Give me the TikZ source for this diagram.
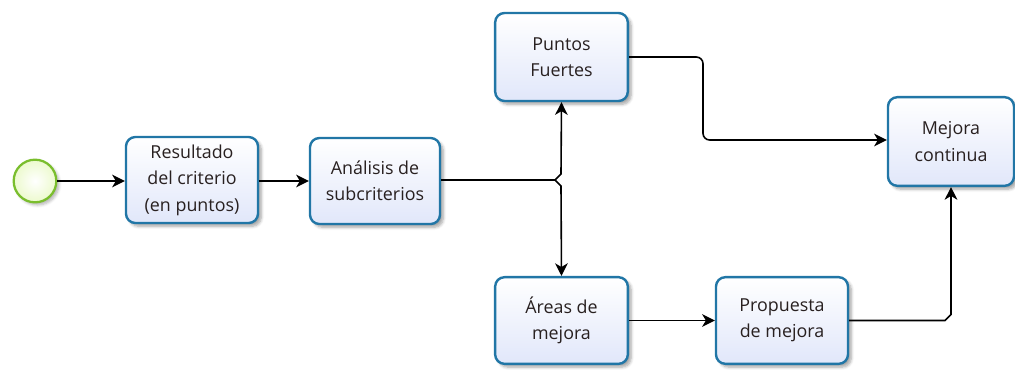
\documentclass[tikz,border=0pt]{standalone}
\usepackage{fontspec}
\setmainfont{Open Sans}
\usetikzlibrary{arrows.meta,shadows.blur}
\definecolor{boxborder}{RGB}{33,118,166}
\definecolor{boxfill}{RGB}{225,231,250}
\definecolor{startborder}{RGB}{122,190,45}
\definecolor{startfill}{RGB}{236,250,205}
\definecolor{txt}{RGB}{40,32,32}
\tikzset{
  task/.style={draw=boxborder, line width=1.8pt, rounded corners=7pt,
    top color=white, bottom color=boxfill, align=center, text=txt,
    font=\fontsize{13.4pt}{19.8pt}\selectfont, inner sep=0pt,
    blur shadow={shadow xshift=2.5pt, shadow yshift=-2.5pt, shadow blur steps=6, shadow opacity=35}},
  startev/.style={circle, draw=startborder, line width=1.7pt, inner sep=0pt,
    minimum size=32pt, inner color=white, outer color=startfill,
    blur shadow={shadow xshift=2pt, shadow yshift=-2pt, shadow blur steps=5, shadow opacity=30}},
  conn/.style={draw=black, line width=1.2pt, -{Stealth[length=9.5pt,width=9.5pt,inset=2.8pt]}},
}
\begin{document}
\begin{tikzpicture}[x=0.75pt,y=-0.75pt]
\useasboundingbox (0,0) rectangle (1015,369);
\node[startev] (s) at (35,181) {};
\node[task, minimum width=99pt, minimum height=64.5pt] (b1) at (192,180) {Resultado\\del criterio\\(en puntos)};
\node[task, minimum width=97.5pt, minimum height=64.5pt] (b2) at (375,181) {Análisis de\\subcriterios};
\node[task, minimum width=99.5pt, minimum height=66pt] (b3) at (561.5,57) {Puntos\\Fuertes};
\node[task, minimum width=94.5pt, minimum height=66.5pt] (b4) at (951,141.5) {Mejora\\continua};
\node[task, minimum width=99.5pt, minimum height=65pt] (b5) at (561.5,320.5) {Áreas de\\mejora};
\node[task, minimum width=99pt, minimum height=65pt] (b6) at (782,320.5) {Propuesta\\de mejora};
\coordinate (j) at (555,180);
\coordinate (m) at (703,100);
\coordinate (k) at (945,320.5);
\draw[conn] (s) -- (b1.west |- s);
\draw[conn] (b1.east |- 0,181) -- (b2.west |- 0,181);
\draw[conn] (b2.east |- j) -- (j) -- ++(6,-6) -- (b3.south);
\draw[conn] (j) -- ++(6,6) -- (b5.north);
\draw[conn, rounded corners=5pt] (b3.east) -| (m) |- (b4.west |- 0,140);
\draw[conn] (b5) -- (b6);
\draw[conn] (b6.east) -- (k) -- ++(6,-6) -- (b4.south);
\end{tikzpicture}
\end{document}
